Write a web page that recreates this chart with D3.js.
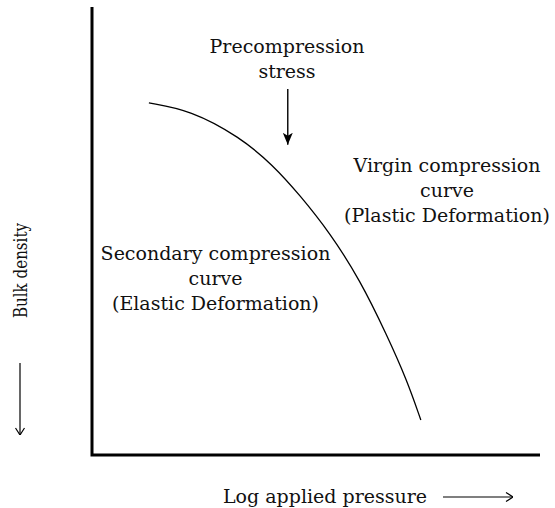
<!DOCTYPE html>
<html>
<head>
<meta charset="utf-8">
<script src="https://cdnjs.cloudflare.com/ajax/libs/d3/7.8.5/d3.min.js"></script>
<style>
  body { margin: 0; background: #fff; }
  svg text { font-family: "DejaVu Serif", serif; fill: #111; }
</style>
</head>
<body>
<div id="chart"></div>
<script>
// compression curve (arbitrary units 0-10)
var logPressure = [1.27, 2.19, 3.30, 4.04, 4.64, 5.31, 5.98, 6.58, 7.03, 7.34];
var bulkDensity = [7.86, 7.70, 7.10, 6.47, 5.80, 4.96, 3.91, 2.68, 1.67, 0.78];

// precompression stress marker (x in log pressure, arrow from / to in density)
var precompression = { x: 4.37, from: 8.17, to: 6.88 };

var xLabel = "Log applied pressure";
var yLabel = "Bulk density";

var notes = [
  { lines: ["Precompression", "stress"], x: 287, y: 53 },
  { lines: ["Virgin compression", "curve", "(Plastic Deformation)"], x: 447, y: 172 },
  { lines: ["Secondary compression", "curve", "(Elastic Deformation)"], x: 215.5, y: 260 }
];

(function() {
  var width = 555, height = 508;
  var margin = { top: 7, left: 92, right: 15, bottom: 53 };

  var svg = d3.select("#chart")
    .append("svg")
    .attr("width", width)
    .attr("height", height);

  var x = d3.scaleLinear().domain([0, 10]).range([margin.left, width - margin.right]);
  var y = d3.scaleLinear().domain([0, 10]).range([height - margin.bottom, margin.top]);

  var defs = svg.append("defs");
  // filled head for the precompression arrow
  defs.append("marker")
    .attr("id", "solid")
    .attr("viewBox", "0 0 12 10")
    .attr("refX", 12).attr("refY", 5)
    .attr("markerWidth", 12).attr("markerHeight", 10)
    .attr("markerUnits", "userSpaceOnUse")
    .attr("orient", "auto")
    .append("path")
    .attr("d", "M0,0 L12,5 L0,10 L3,5 Z")
    .attr("fill", "#000");
  // open head for the axis-title arrows
  defs.append("marker")
    .attr("id", "open")
    .attr("viewBox", "0 0 10 10")
    .attr("refX", 10).attr("refY", 5)
    .attr("markerWidth", 10).attr("markerHeight", 10)
    .attr("markerUnits", "userSpaceOnUse")
    .attr("orient", "auto")
    .append("path")
    .attr("d", "M3,0.5 L10,5 L3,9.5")
    .attr("fill", "none")
    .attr("stroke", "#000")
    .attr("stroke-width", 1.2);

  // axes: just the two thick lines, no ticks
  svg.append("path")
    .attr("d", "M" + x(0) + "," + y(10) + "V" + y(0) + "H" + x(10))
    .attr("fill", "none")
    .attr("stroke", "#000")
    .attr("stroke-width", 3)
    .attr("stroke-linejoin", "miter");

  var pts = logPressure.map(function(d, i) { return [d, bulkDensity[i]]; });

  var line = d3.line()
    .x(function(d) { return x(d[0]); })
    .y(function(d) { return y(d[1]); })
    .curve(d3.curveBasis);

  svg.append("path")
    .datum(pts)
    .attr("d", line)
    .attr("fill", "none")
    .attr("stroke", "#000")
    .attr("stroke-width", 1.3);

  // precompression arrow
  svg.append("line")
    .attr("x1", x(precompression.x)).attr("x2", x(precompression.x))
    .attr("y1", y(precompression.from)).attr("y2", y(precompression.to) - 2)
    .attr("stroke", "#000")
    .attr("stroke-width", 1.4)
    .attr("marker-end", "url(#solid)");

  // text notes
  notes.forEach(function(n) {
    var t = svg.append("text")
      .attr("text-anchor", "middle")
      .attr("font-size", 19);
    n.lines.forEach(function(s, i) {
      t.append("tspan")
        .attr("x", n.x)
        .attr("y", n.y + i * 25)
        .text(s);
    });
  });

  // x title + arrow
  svg.append("text")
    .attr("x", 223)
    .attr("y", 503)
    .attr("font-size", 19)
    .text(xLabel);
  svg.append("line")
    .attr("x1", 443).attr("x2", 513)
    .attr("y1", 497).attr("y2", 497)
    .attr("stroke", "#000")
    .attr("stroke-width", 1.2)
    .attr("marker-end", "url(#open)");

  // y title + arrow
  svg.append("text")
    .attr("transform", "translate(27,318) rotate(-90)")
    .attr("font-size", 19)
    .attr("textLength", 95)
    .attr("lengthAdjust", "spacingAndGlyphs")
    .text(yLabel);
  svg.append("line")
    .attr("x1", 20).attr("x2", 20)
    .attr("y1", 363).attr("y2", 435)
    .attr("stroke", "#000")
    .attr("stroke-width", 1.2)
    .attr("marker-end", "url(#open)");
})();
</script>
</body>
</html>
